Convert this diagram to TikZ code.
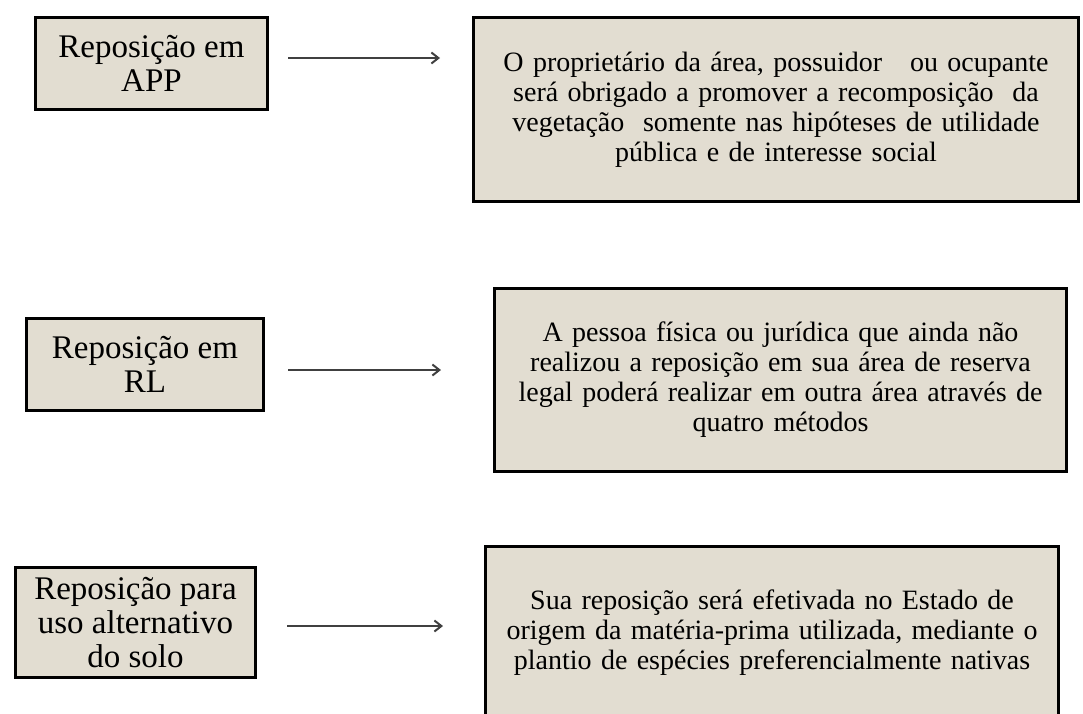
\documentclass[tikz,border=0pt]{standalone}
\usepackage{fontspec}
\setmainfont{Liberation Serif}
\usetikzlibrary{arrows.meta,shadows}

\definecolor{boxfill}{HTML}{E2DDD1}
\definecolor{arrowgray}{HTML}{404040}

\tikzset{
    kindbox/.style={draw=black, line width=3pt, fill=boxfill, align=center, inner sep=0pt,
        font=\fontsize{33}{34}\selectfont,
        drop shadow={shadow xshift=1.5pt, shadow yshift=-1.5pt, fill=black!45, opacity=1}},
    rulebox/.style={draw=black, line width=3pt, fill=boxfill, align=center, inner sep=0pt,
        font=\fontsize{28}{30}\selectfont,
        drop shadow={shadow xshift=1.5pt, shadow yshift=-1.5pt, fill=black!45, opacity=1}},
    linkarrow/.style={draw=arrowgray, line width=2pt,
        -{Straight Barb[length=7pt, width=11pt, line width=2pt]}}
}

\begin{document}
\begin{tikzpicture}[x=1pt, y=-1pt]
    % tamanho da figura em pixels
    \useasboundingbox (0,0) rectangle (1083,713);

    % linha 1: APP
    \node[kindbox, minimum width=232pt, minimum height=92pt] (app) at (151.5,63.5)
        {Reposição em\\APP};
    \node[rulebox, text width=605pt, minimum height=184pt] (appdesc) at (776,109.5)
        {O proprietário da área, possuidor~~ ou ocupante\\
         será obrigado a promover a recomposição~ da\\
         vegetação~ somente nas hipóteses de utilidade\\
         pública e de interesse social};

    % linha 2: RL
    \node[kindbox, minimum width=237pt, minimum height=92pt] (rl) at (145,364.5)
        {Reposição em\\RL};
    \node[rulebox, text width=572pt, minimum height=183pt] (rldesc) at (780.5,380)
        {A pessoa física ou jurídica que ainda não\\
         realizou a reposição em sua área de reserva\\
         legal poderá realizar em outra área através de\\
         quatro métodos};

    % linha 3: uso alternativo do solo
    \node[kindbox, minimum width=240pt, minimum height=110pt] (uas) at (135.5,622.5)
        {Reposição para\\uso alternativo\\do solo};
    \node[rulebox, text width=573pt, minimum height=172pt] (uasdesc) at (772,632.5)
        {Sua reposição será efetivada no Estado de\\
         origem da matéria-prima utilizada, mediante o\\
         plantio de espécies preferencialmente nativas};

    % setas
    \draw[linkarrow, shorten <=19pt, shorten >=32pt]
        ([yshift=5.5pt]app.east) -- ([yshift=5.5pt]app.east -| appdesc.west);
    \draw[linkarrow, shorten <=23pt, shorten >=52pt]
        ([yshift=-5.5pt]rl.east) -- ([yshift=-5.5pt]rl.east -| rldesc.west);
    \draw[linkarrow, shorten <=30pt, shorten >=41pt]
        ([yshift=-3.5pt]uas.east) -- ([yshift=-3.5pt]uas.east -| uasdesc.west);
\end{tikzpicture}
\end{document}
